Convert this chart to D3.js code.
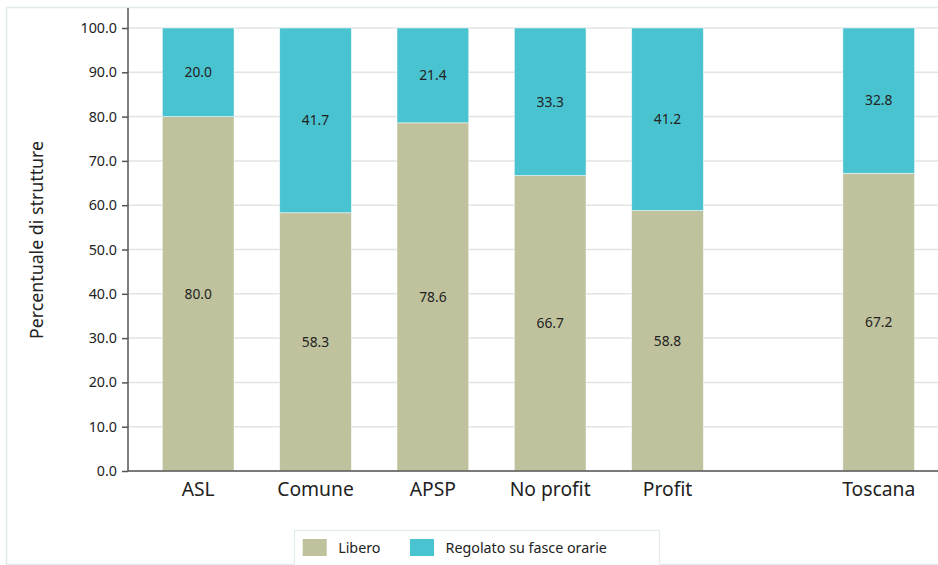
<!DOCTYPE html>
<html><head><meta charset="utf-8">
<script src="https://cdn.jsdelivr.net/npm/d3@7"></script>
<style>body{margin:0;background:#fff;}svg{display:block;font-family:"Noto Sans",sans-serif;}</style>
</head><body><svg id="c" width="938" height="565"></svg>
<script>
const categories = ["ASL","Comune","APSP","No profit","Profit","Toscana"];
const libero = [80.0,58.3,78.6,66.7,58.8,67.2];
const regolato = [20.0,41.7,21.4,33.3,41.2,32.8];
const seriesNames = ["Libero","Regolato su fasce orarie"];
const yTicks = [0,10,20,30,40,50,60,70,80,90,100];

const colors = ["#bfc29d","#4ac3d0"];
const svg = d3.select("#c");
const W = 938, H = 565;
const m = {l:128, t:28, b:94};
const y = d3.scaleLinear().domain([0,100]).range([H-m.b, m.t]);
// slot index: regular categories, extra gap before the regional total
const slot = (c,i) => i + (c === "Toscana" ? 0.8 : 0);
const x = d3.scaleLinear().domain([0, 5.8]).range([198.2, 878.7]);
const bw = 71.7;

// outer frame
svg.append("rect").attr("x",6.5).attr("y",7.5).attr("width",W).attr("height",H-8)
  .attr("fill","none").attr("stroke","#e3ecec").attr("stroke-width",1.5);

// gridlines
svg.append("g").selectAll("line").data(yTicks).join("line")
  .attr("x1",m.l).attr("x2",W).attr("y1",d=>y(d)).attr("y2",d=>y(d))
  .attr("stroke","#e3e3e3").attr("stroke-width",1.5);

// y axis
const ya = svg.append("g").attr("transform",`translate(${m.l},0)`)
  .call(d3.axisLeft(y).tickValues(yTicks).tickFormat(d3.format(".1f")).tickSize(6).tickPadding(5));
ya.select(".domain").attr("stroke","#555").attr("stroke-width",1.5).attr("d",`M0,${y(0)}V8`);
ya.selectAll(".tick line").attr("stroke","#555").attr("stroke-width",1.5);
ya.selectAll(".tick text").attr("font-size",14.3).attr("fill","#222").attr("font-family","Noto Sans");

// bars
const data = categories.map((c,i)=>({c,i,v:[libero[i],regolato[i]]}));
const g = svg.append("g");
data.forEach(d=>{
  let acc = 0;
  d.v.forEach((v,k)=>{
    const y0 = acc, y1 = acc + v; acc = y1;
    const top = k===1 ? 100 : y1;
    g.append("rect").attr("x",x(slot(d.c,d.i))-bw/2).attr("width",bw)
      .attr("y",y(top)).attr("height",y(y0)-y(top))
      .attr("fill",colors[k]).attr("stroke","#ffffff").attr("stroke-opacity",0.6).attr("stroke-width",0.8);
    g.append("text").attr("x",x(slot(d.c,d.i))).attr("y",y((y0+top)/2))
      .attr("dy","0.35em").attr("text-anchor","middle").attr("font-size",13.8).attr("fill","#222")
      .text(d3.format(".1f")(v));
  });
});

// baseline
svg.append("line").attr("x1",m.l).attr("x2",W).attr("y1",y(0)).attr("y2",y(0))
  .attr("stroke","#555").attr("stroke-width",1.5);

// category labels
svg.append("g").selectAll("text").data(data).join("text")
  .attr("x",d=>x(slot(d.c,d.i))).attr("y",y(0)+24.5).attr("text-anchor","middle")
  .attr("font-size",19.3).attr("fill","#222").text(d=>d.c);

// y title
svg.append("text").attr("transform",`translate(43,240) rotate(-90)`).attr("text-anchor","middle")
  .attr("font-size",17.8).attr("fill","#222").text("Percentuale di strutture");

// legend
const lg = svg.append("g");
lg.append("rect").attr("x",294.5).attr("y",530.5).attr("width",365).attr("height",40)
  .attr("fill","#fff").attr("stroke","#e3ecec").attr("stroke-width",1.2);
const lx = [302.7, 410];
seriesNames.forEach((s,k)=>{
  lg.append("rect").attr("x",lx[k]).attr("y",539).attr("width",24).attr("height",17).attr("fill",colors[k]);
  lg.append("text").attr("x",lx[k]+35.5).attr("y",548).attr("dy","0.35em").attr("font-size",14.3)
    .attr("fill","#222").text(s);
});
</script></body></html>
